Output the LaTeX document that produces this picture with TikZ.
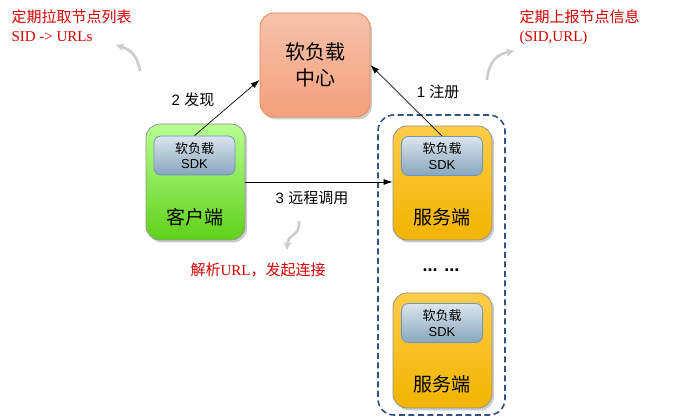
\documentclass[tikz,border=0pt]{standalone}
\usepackage{fontspec}
\setmainfont{Liberation Serif}
\setsansfont{Liberation Sans}
\newfontfamily\cjk{Noto Sans CJK SC}
\usetikzlibrary{shadows,positioning,arrows.meta}
\definecolor{lbtop}{HTML}{F6C2AB}
\definecolor{lbbot}{HTML}{F4A07C}
\definecolor{lbline}{HTML}{E9874F}
\definecolor{cltop}{HTML}{B8FF92}
\definecolor{clbot}{HTML}{60D01A}
\definecolor{svtop}{HTML}{FFCC48}
\definecolor{svbot}{HTML}{F0B400}
\definecolor{sdktop}{HTML}{DCE5EC}
\definecolor{sdkbot}{HTML}{87A6BD}
\definecolor{sdkline}{HTML}{6C94C4}
\definecolor{grpline}{HTML}{2F5283}
\definecolor{notered}{HTML}{D40000}
\begin{document}
\begin{tikzpicture}[>={Latex[length=9pt,width=6pt]},x=1pt,y=-1pt,
    box/.style={rounded corners=14pt,draw=gray!85,line width=0.8pt,
      drop shadow={opacity=0.4,shadow xshift=2pt,shadow yshift=-2.5pt},
      minimum width=99pt,font=\cjk\fontsize{20}{26}\selectfont,align=center},
    sdkbox/.style={rounded corners=7pt,draw=sdkline,line width=0.8pt,
      top color=sdktop,bottom color=sdkbot,
      minimum width=81pt,minimum height=39pt,align=center,
      font=\sffamily\fontsize{13}{15.5}\selectfont},
    boxtext/.style={font=\cjk\fontsize{19}{22}\selectfont},
    note/.style={text=notered,align=left,font=\fontsize{15}{19}\selectfont},
    step label/.style={font=\sffamily\fontsize{15}{17}\selectfont},
    hint/.style={draw=gray!40,line width=2.6pt,-{Stealth[length=8pt,width=8pt]}}]
  \useasboundingbox (0,0) rectangle (691,419);

  % soft load center
  \node[box,draw=lbline,top color=lbtop,bottom color=lbbot,minimum width=110pt,
        minimum height=104pt] (lb) at (315,65) {软负载\\中心};

  % client
  \node[box,top color=cltop,bottom color=clbot,minimum height=116pt] (cl) at (195.5,182) {};
  \node[sdkbox] (clsdk) at (194.5,155.5) {{\cjk 软负载}\\SDK};
  \node[boxtext] (cltxt) at (195,217) {客户端};

  % server group
  \node[draw=grpline,dash pattern=on 6pt off 3.5pt,line width=1.6pt,rounded corners=16pt,
        minimum width=127pt,minimum height=300pt] (grp) at (441.5,265) {};
  \node[box,top color=svtop,bottom color=svbot,minimum height=114pt] (sv1) at (442.5,183) {};
  \node[sdkbox] (svsdk1) at (442,156) {{\cjk 软负载}\\SDK};
  \node[boxtext] (svtxt1) at (442,217) {服务端};
  \node[font=\bfseries\sffamily\fontsize{18}{20}\selectfont] (dots) at (441,270) {... ...};
  \node[box,top color=svtop,bottom color=svbot,minimum height=115pt] (sv2) at (442.5,350.5) {};
  \node[sdkbox] (svsdk2) at (442,323) {{\cjk 软负载}\\SDK};
  \node[boxtext] (svtxt2) at (442,384) {服务端};

  % calls
  \draw[->,line width=0.7pt] (clsdk.north) -- (lb.195);
  \draw[->,line width=0.7pt] (svsdk1.north) -- (lb.east);
  \draw[->,line width=0.7pt] (cl.east) -- (cl.east -| sv1.west);
  \node[step label] (s2) at (193,100) {2 {\cjk 发现}};
  \node[step label] (s1) at (438,92) {1 {\cjk 注册}};
  \node[step label] (s3) at (312,198) {3 {\cjk 远程调用}};

  % notes
  \node[note,anchor=north west] (pull) at (8,6) {{\cjk 定期拉取节点列表}\\SID -> URLs};
  \node[note,anchor=north west] (push) at (516,6) {{\cjk 定期上报节点信息}\\(SID,URL)};
  \node[note] (parse) at (258,270) {{\cjk 解析}URL{\cjk ，发起连接}};
  \coordinate (h1a) at (140,71);
  \coordinate (h1b) at (116,45);
  \coordinate (h2a) at (487,80);
  \coordinate (h2b) at (514,51);
  \coordinate (h3a) at (299,221);
  \coordinate (h3b) at (287,250);
  \draw[hint] (h1a) .. controls (137,56) and (132,50) .. (h1b);
  \draw[hint] (h2a) .. controls (489,60) and (498,54) .. (h2b);
  \draw[hint] (h3a) .. controls (300,238) and (288,232) .. (h3b);
\end{tikzpicture}
\end{document}
